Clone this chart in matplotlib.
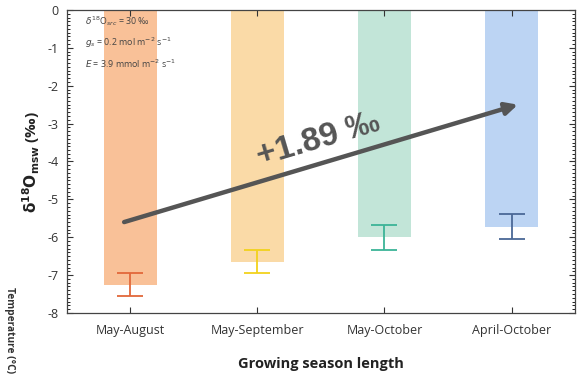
import matplotlib
matplotlib.use("Agg")
import matplotlib.pyplot as plt
from matplotlib.ticker import MultipleLocator

# Growing-season scenarios and simulated leaf-water δ18O
categories = ["May-August", "May-September", "May-October", "April-October"]
means = [-7.25, -6.65, -6.00, -5.72]
errors = [0.31, 0.30, 0.33, 0.33]
bar_colors = ["#F7A468", "#F9C97E", "#A5D9C6", "#9CC0EE"]
err_colors = ["#E2683A", "#F2D21C", "#3BB497", "#4A6896"]
y_ticks = [0, -1, -2, -3, -4, -5, -6, -7, -8]
shift_label = "+1.89 ‰"

plt.rcParams["font.family"] = ["Open Sans", "DejaVu Sans"]

fig = plt.figure(figsize=(5.84, 3.83), dpi=100)
ax = fig.add_axes([0.1147, 0.1828, 0.8699, 0.7912])

x = list(range(len(categories)))
ax.bar(x, means, width=0.42, color=bar_colors, alpha=0.68, zorder=1)
for xi, m, e, c in zip(x, means, errors, err_colors):
    ax.errorbar(xi, m, yerr=e, fmt="none", ecolor=c, elinewidth=1.3,
                capsize=9.5, capthick=1.3, zorder=3)

ax.set_xlim(-0.5, 3.5)
ax.set_ylim(-8, 0)
ax.set_yticks(y_ticks)
ax.set_yticklabels([str(t) for t in y_ticks])
ax.yaxis.set_minor_locator(MultipleLocator(0.1))
ax.set_xticks(x)
ax.set_xticklabels(categories)
ax.tick_params(axis="both", direction="in", top=True, right=True,
               labelsize=9, colors="#333333", length=4, width=0.8)
ax.tick_params(axis="y", which="minor", direction="in", right=True,
               length=2.5, width=0.6)
ax.tick_params(axis="x", pad=8)
ax.tick_params(axis="y", pad=6)
for s in ax.spines.values():
    s.set_color("#444444")
    s.set_linewidth(0.9)

ax.set_ylabel(r"$\mathbf{\delta^{18}O_{msw}}$ (‰)", fontsize=11,
              fontweight="bold", color="#222222", labelpad=4)
ax.set_xlabel("Growing season length", fontsize=10.5, fontweight="bold",
              color="#222222", labelpad=14)

# Model parameters
params = (r"$\delta^{18}$O$_{src}$ = 30 ‰" "\n"
          r"$g_s$ = 0.2 mol m$^{-2}$ s$^{-1}$" "\n"
          r"$E$ = 3.9 mmol m$^{-2}$ s$^{-1}$")
ax.text(0.035, 0.985, params, transform=ax.transAxes, fontsize=6.4,
        color="#444444", va="top", ha="left", linespacing=1.7)

# Trend arrow across scenarios
ax.annotate("", xy=(3.05, -2.5), xytext=(-0.05, -5.6),
            arrowprops=dict(arrowstyle="-|>", color="#555555", lw=3.2,
                            mutation_scale=18, shrinkA=0, shrinkB=0),
            zorder=4)
ax.text(1.48, -3.42, shift_label, fontsize=24, fontweight="bold",
        color="#555555", rotation=16.5, ha="center", va="center",
        family=["Liberation Sans", "DejaVu Sans"], zorder=5)

# Axis title of the neighbouring temperature panel
fig.text(0.006, 0.25, "Temperature (°C)", rotation=-90, fontsize=7.3,
         fontweight="bold", color="#333333", ha="left", va="top")

fig.savefig("out.png", dpi=100)
